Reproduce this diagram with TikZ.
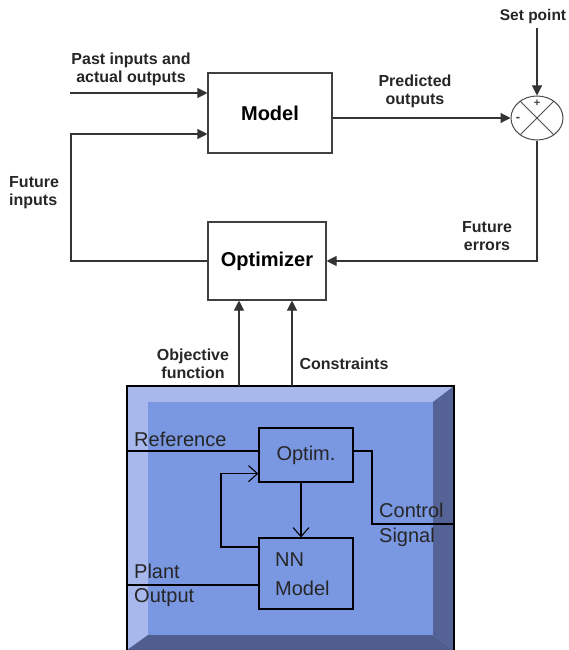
\documentclass[tikz,border=0pt]{standalone}
\usepackage{fontspec}
\setmainfont{Liberation Sans}
\usetikzlibrary{arrows.meta,positioning,shapes.geometric}
\definecolor{panellight}{RGB}{168,184,236}
\definecolor{panelface}{RGB}{122,151,226}
\definecolor{paneldark}{RGB}{84,98,150}
\begin{document}
\begin{tikzpicture}[x=1pt,y=-1pt,
  block/.style={draw=black!75, line width=1.1pt, minimum width=124pt, minimum height=80pt, font=\bfseries\fontsize{20}{22}\selectfont},
  lbl/.style={font=\bfseries\fontsize{16}{18}\selectfont, align=center, text=black!85, inner sep=0pt},
  sig/.style={draw=black!80, line width=1.1pt, -{Triangle[length=10pt,width=10pt]}},
  nnbox/.style={draw, line width=1.3pt, minimum width=94pt, font=\fontsize{20}{28}\selectfont, text=black!85},
  nnlbl/.style={font=\fontsize{20}{26}\selectfont, text=black!85, align=left, inner sep=0pt, anchor=west},
  wire/.style={draw, line width=1.3pt},
  barb/.style={wire, -{Straight Barb[length=9pt,width=16pt,line width=1.1pt]}}]
\useasboundingbox (0,0) rectangle (568,650);

% Blocks
\node[block] (model) at (270,113) {Model};
\node[block, minimum width=118pt, minimum height=78pt] (opt) at (267,261) {Optimizer};
\node[ellipse, draw=black!70, line width=1pt, minimum width=52pt, minimum height=44pt] (sum) at (537,118) {};
\draw[black!70, line width=0.9pt] (sum.45) -- (sum.225) (sum.135) -- (sum.315);
\node[font=\bfseries\fontsize{11}{11}\selectfont, text=black!75, inner sep=0pt] (plus) at (537,103) {+};
\node[font=\bfseries\fontsize{13}{13}\selectfont, text=black!75, inner sep=0pt] (minus) at (518,119) {-};

% Inputs
\node[lbl, font=\bfseries\fontsize{15.5}{18}\selectfont] (setpt) at (533,16) {Set point};
\coordinate (sp) at (537,28);
\draw[sig] (sp) -- (sum.north);
\node[lbl] (past) at (131,69) {Past inputs and\\actual outputs};
\coordinate (pin) at (70,93);
\draw[sig] (pin) -- (pin -| model.west);

% Loops
\node[lbl] (pred) at (415,91) {Predicted\\outputs};
\draw[sig] (model.east |- sum) -- (sum.west);
\node[lbl] (ferr) at (487,236) {Future\\errors};
\draw[sig] (sum.south) |- (opt.east);
\node[lbl, align=left, anchor=west] (finp) at (9,193) {Future\\inputs};
\coordinate (fi) at (71,134);
\draw[sig] (opt.west) -| (fi) -- (fi -| model.west);

% Panel
\fill[panellight] (127,386) rectangle (454,650);
\fill[paneldark] (454,386) -- (433,402) -- (433,635) -- (454,650) -- cycle;
\fill[paneldark!95!black] (127,650) -- (148,635) -- (433,635) -- (454,650) -- cycle;
\fill[panelface] (148,402) rectangle (433,635);
\draw[line width=1.3pt] (127,650) -- (127,386) -- (454,386) -- (454,650);

% Objective and constraints
\coordinate (obj) at (239,386);
\coordinate (con) at (292,386);
\draw[sig] (obj) -- (obj |- opt.south);
\draw[sig] (con) -- (con |- opt.south);
\node[lbl] (objl) at (193,364) {Objective\\function};
\node[lbl] (conl) at (344,364) {Constraints};

% NN controller
\node[nnbox, minimum height=54pt] (optim) at (306,455) {Optim.};
\node[nnbox, minimum height=71pt] (nn) at (306,573.5) {};
\node[nnlbl] (nnt) at (275,560) {NN};
\node[nnlbl] (nnm) at (275,588) {Model};
\coordinate (ref) at (127,451);
\draw[wire] (ref) -- (ref -| optim.west);
\node[nnlbl] (refl) at (134,439) {Reference};
\coordinate (cs) at (372,451);
\coordinate (cs2) at (454,524);
\draw[wire] (cs -| optim.east) -- (cs) |- (cs2);
\node[nnlbl] (csl) at (379,510) {Control};
\node[nnlbl] (csl2) at (379,537) {Signal};
\coordinate (po) at (127,585);
\draw[wire] (po) -- (po -| nn.west);
\node[nnlbl] (pol) at (134,571) {Plant};
\node[nnlbl] (pol2) at (134,598) {Output};
\draw[barb] ([xshift=-5pt]optim.south) -- ([xshift=-5pt]nn.north);
\coordinate (fb) at (221,547);
\draw[barb] (fb -| nn.west) -- (fb) |- ([yshift=9pt]optim.south west);
\end{tikzpicture}
\end{document}
